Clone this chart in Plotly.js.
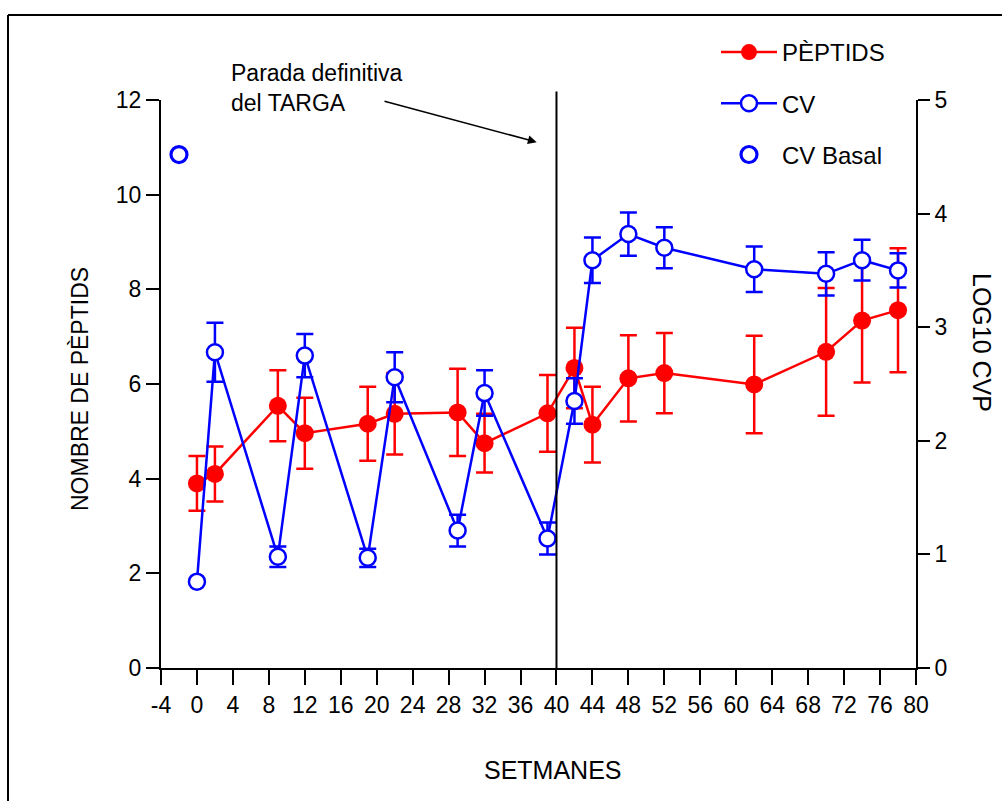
<!DOCTYPE html>
<html>
<head>
<meta charset="utf-8">
<script src="https://cdn.plot.ly/plotly-3.0.1.min.js"></script>
<style>
  html, body { margin: 0; padding: 0; background: #ffffff; }
  #chart { width: 1002px; height: 801px; }
</style>
</head>
<body>
<div id="chart"></div>
<script>
// ---- Data ----
const weeks = [0, 2, 9, 12, 19, 22, 29, 32, 39, 42, 44, 48, 52, 62, 70, 74, 78];
const peptids = [3.90, 4.10, 5.54, 4.96, 5.16, 5.37, 5.40, 4.75, 5.38, 6.34, 5.14, 6.12, 6.23, 5.99, 6.68, 7.34, 7.56];
const peptidsErr = [0.58, 0.58, 0.75, 0.75, 0.78, 0.86, 0.92, 0.62, 0.81, 0.85, 0.80, 0.91, 0.85, 1.03, 1.35, 1.31, 1.31];
const cv = [0.76, 2.78, 0.98, 2.75, 0.97, 2.56, 1.21, 2.42, 1.14, 2.35, 3.59, 3.82, 3.70, 3.51, 3.47, 3.59, 3.50];
const cvErr = [0, 0.26, 0.09, 0.19, 0.08, 0.22, 0.14, 0.20, 0.14, 0.20, 0.20, 0.19, 0.18, 0.20, 0.19, 0.18, 0.15];
const basalWeek = [-2];
const basalCV = [4.52];
const stopWeek = 40;
const xTicks = [-4, 0, 4, 8, 12, 16, 20, 24, 28, 32, 36, 40, 44, 48, 52, 56, 60, 64, 68, 72, 76, 80];
const xTickLabels = ['-4', '0', '4', '8', '12', '16', '20', '24', '28', '32', '36', '40', '44', '48', '52', '56', '60', '64', '68', '72', '76', '80'];
const yLeftTicks = [0, 2, 4, 6, 8, 10, 12];
const yRightTicks = [0, 1, 2, 3, 4, 5];

const RED = '#ff0000';
const BLUE = '#0000ff';
const FONT = 'Liberation Sans, Arial, Helvetica, sans-serif';

const traces = [
  {
    x: weeks, y: cv, yaxis: 'y2', name: 'CV', legendgroup: 'cv', legendrank: 2,
    type: 'scatter', mode: 'lines+markers',
    line: { color: BLUE, width: 2.5 },
    marker: { symbol: 'circle', size: 16, color: '#ffffff', line: { color: BLUE, width: 2.5 } },
    error_y: { type: 'data', array: cvErr, visible: true, color: BLUE, thickness: 2.5, width: 8.5 }
  },
  {
    x: basalWeek, y: basalCV, yaxis: 'y2', name: 'CV Basal', legendgroup: 'basal', legendrank: 3,
    type: 'scatter', mode: 'markers',
    marker: { symbol: 'circle', size: 16, color: 'rgba(255,255,255,0)', line: { color: BLUE, width: 3.2 } }
  },
  {
    x: weeks, y: peptids, yaxis: 'y', name: 'PÈPTIDS', legendgroup: 'pep', legendrank: 1,
    type: 'scatter', mode: 'lines+markers',
    line: { color: RED, width: 2.5 },
    marker: { symbol: 'circle', size: 18, color: RED },
    error_y: { type: 'data', array: peptidsErr, visible: true, color: RED, thickness: 2.5, width: 8.5 }
  }
];

const L = 161, R = 86, T = 100, B = 133;
const PW = 1002 - L - R, PH = 801 - T - B;
const px = v => (v - L) / PW;
const py = v => (801 - B - v) / PH;

const layout = {
  width: 1002, height: 801,
  margin: { l: L, r: R, t: T, b: B, pad: 0 },
  paper_bgcolor: '#ffffff', plot_bgcolor: '#ffffff',
  font: { family: FONT, size: 23, color: '#000000' },
  showlegend: true,
  legend: {
    x: px(716), y: py(30), xanchor: 'left', yanchor: 'top',
    bgcolor: 'rgba(0,0,0,0)', borderwidth: 0,
    font: { family: FONT, size: 24, color: '#000' },
    traceorder: 'grouped', tracegroupgap: 17, itemwidth: 56
  },
  xaxis: {
    range: [-4, 80], tickmode: 'array', tickvals: xTicks, ticktext: xTickLabels,
    showline: true, linecolor: '#000', linewidth: 2,
    ticks: 'outside', ticklen: 15, tickwidth: 2, tickcolor: '#000',
    showgrid: false, zeroline: false,
    tickfont: { family: FONT, size: 23 },
    automargin: false
  },
  yaxis: {
    range: [0, 12], tickmode: 'array', tickvals: yLeftTicks,
    showline: true, linecolor: '#000', linewidth: 2,
    ticks: 'outside', ticklen: 13, tickwidth: 2, tickcolor: '#000',
    showgrid: false, zeroline: false,
    tickfont: { family: FONT, size: 23 },
    automargin: false
  },
  yaxis2: {
    range: [0, 5], tickmode: 'array', tickvals: yRightTicks,
    overlaying: 'y', side: 'right', anchor: 'x',
    showline: true, linecolor: '#000', linewidth: 2,
    ticks: 'outside', ticklen: 12, tickwidth: 2, tickcolor: '#000',
    showgrid: false, zeroline: false,
    tickfont: { family: FONT, size: 23 },
    automargin: false
  },
  shapes: [
    { type: 'line', xref: 'x', yref: 'paper', x0: stopWeek, x1: stopWeek, y0: 0, y1: 1.015,
      line: { color: '#000', width: 2 } },
    { type: 'line', xref: 'paper', yref: 'paper', x0: px(8), x1: px(1010), y0: py(15), y1: py(15),
      line: { color: '#000', width: 2 } },
    { type: 'line', xref: 'paper', yref: 'paper', x0: px(8), x1: px(8), y0: py(15), y1: py(810),
      line: { color: '#000', width: 2 } }
  ],
  annotations: [
    { xref: 'paper', yref: 'paper', x: px(229), y: py(58), xanchor: 'left', yanchor: 'top',
      align: 'left', showarrow: false,
      text: 'Parada definitiva<br>del TARGA', font: { family: FONT, size: 23, color: '#000' } },
    { xref: 'x', yref: 'y', x: 37.8, y: 11.11, axref: 'x', ayref: 'y', ax: 20.7, ay: 11.98,
      text: '', showarrow: true, arrowhead: 2, arrowsize: 1.1, arrowwidth: 1.6, arrowcolor: '#000', standoff: 0, startstandoff: 0 },
    { xref: 'paper', yref: 'paper', x: px(553), y: py(770), xanchor: 'center', yanchor: 'middle',
      showarrow: false, text: 'SETMANES', font: { family: FONT, size: 25, color: '#000' } },
    { xref: 'paper', yref: 'paper', x: px(80), y: py(389), xanchor: 'center', yanchor: 'middle',
      textangle: -90, showarrow: false,
      text: 'NOMBRE DE PÈPTIDS', font: { family: FONT, size: 23, color: '#000' } },
    { xref: 'paper', yref: 'paper', x: px(982), y: py(342), xanchor: 'center', yanchor: 'middle',
      textangle: 90, showarrow: false,
      text: 'LOG10 CVP', font: { family: FONT, size: 25, color: '#000' } }
  ]
};

Plotly.newPlot('chart', traces, layout, { displayModeBar: false, staticPlot: true });
</script>
</body>
</html>
